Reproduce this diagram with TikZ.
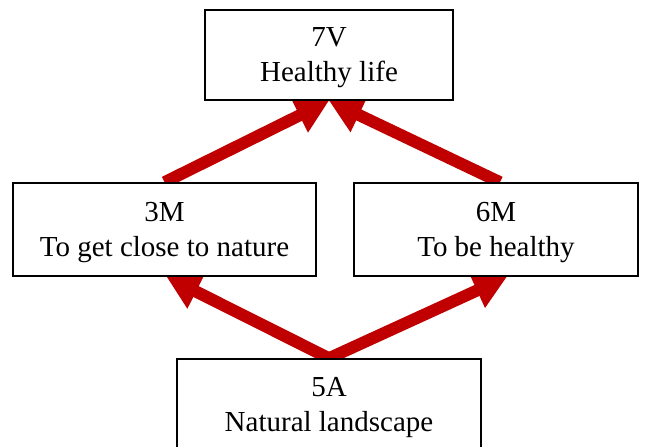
\documentclass[tikz,border=0pt]{standalone}
\usepackage{fontspec}
\setmainfont{Liberation Serif}
\usetikzlibrary{arrows.meta,backgrounds}
\definecolor{arrowred}{HTML}{C00000}
\begin{document}
\begin{tikzpicture}[x=1pt,y=-1pt,
  box/.style={draw=black, line width=1.5pt, fill=white, align=center,
    font=\fontsize{29}{35}\selectfont, inner sep=0pt, text depth=0pt},
  link/.style={draw=arrowred, line width=12pt,
    -{Triangle[length=33pt,width=36pt]}}]
\useasboundingbox (0,0) rectangle (651,447);

% value, means and attribute boxes
\node[box, minimum width=248pt, minimum height=90pt] (v7) at (329,55) {7V\\Healthy life};
\node[box, minimum width=303pt, minimum height=93pt] (m3) at (164.5,229.5) {3M\\To get close to nature};
\node[box, minimum width=284pt, minimum height=93pt] (m6) at (496,229.5) {6M\\To be healthy};
\node[box, minimum width=304pt, minimum height=90pt] (a5) at (329,404) {5A\\Natural landscape};

% links drawn beneath the boxes
\begin{scope}[on background layer]
  \draw[link] (m3.north) -- (v7.south);
  \draw[link] ([xshift=4pt]m6.north) -- (v7.south);
  \draw[link] (a5.north) -- ([xshift=2pt]m3.south);
  \draw[link] (a5.north) -- ([xshift=11pt]m6.south);
\end{scope}
\end{tikzpicture}
\end{document}
